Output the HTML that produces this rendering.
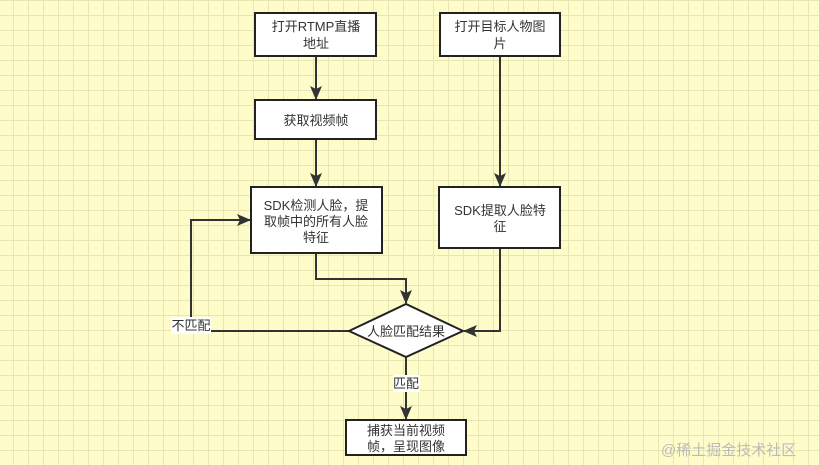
<!DOCTYPE html>
<html><head><meta charset="utf-8"><style>
html,body{margin:0;padding:0}
body{width:819px;height:465px;overflow:hidden;background-color:#fefdc9;
background-image:linear-gradient(to right,#e8e6b4 1px,transparent 1px),linear-gradient(to bottom,#e8e6b4 1px,transparent 1px);
background-size:15px 15px;background-position:13px 0px;position:relative;
font-family:"Liberation Sans","Noto Sans CJK SC",sans-serif}
svg{position:absolute;left:0;top:0}
</style></head><body>
<svg width="819" height="465" viewBox="0 0 819 465" font-family="Liberation Sans, Noto Sans CJK SC, sans-serif" font-size="13" fill="#333">
<defs><marker id="a" markerWidth="14" markerHeight="12" refX="13" refY="6" orient="auto" markerUnits="userSpaceOnUse"><path d="M0,0 L14,6 L0,12 L3,6 z" fill="#333"/></marker></defs>
<g stroke="#333" stroke-width="2" fill="none">
<path d="M316 56 V99" marker-end="url(#a)"/>
<path d="M316 139 V186" marker-end="url(#a)"/>
<path d="M500 56 V186" marker-end="url(#a)"/>
<path d="M316 253 V279 H406 V303" marker-end="url(#a)"/>
<path d="M500 248 V331 H464" marker-end="url(#a)"/>
<path d="M349 331 H191 V220 H250" marker-end="url(#a)"/>
<path d="M406 357 V419" marker-end="url(#a)"/>
</g>
<g fill="#fff" stroke="#222" stroke-width="2">
<rect x="255" y="13" width="121" height="43"/>
<rect x="440" y="13" width="120" height="43"/>
<rect x="255" y="100" width="121" height="39"/>
<rect x="251" y="187" width="131" height="66"/>
<rect x="439" y="187" width="121" height="61"/>
<polygon points="349,331 406,304 463,331 406,357"/>
<rect x="346" y="420" width="120" height="35"/>
</g>
<rect x="171" y="317" width="40" height="17" fill="#fff"/>
<rect x="393" y="375" width="27" height="17" fill="#fff"/>
<g text-anchor="middle">
<text x="316" y="31">打开RTMP直播</text><text x="316" y="48">地址</text>
<text x="500" y="31">打开目标人物图</text><text x="500" y="48">片</text>
<text x="316" y="125">获取视频帧</text>
<text x="316" y="210">SDK检测人脸，提</text><text x="316" y="226">取帧中的所有人脸</text><text x="316" y="242">特征</text>
<text x="500" y="215">SDK提取人脸特</text><text x="500" y="231">征</text>
<text x="406" y="336">人脸匹配结果</text>
<text x="406" y="435">捕获当前视频</text><text x="406" y="451">帧，呈现图像</text>
<text x="191" y="330">不匹配</text>
<text x="406" y="388">匹配</text>
</g>
<text x="661" y="455" font-size="15" fill="#bbb">@稀土掘金技术社区</text>
</svg>
</body></html>
